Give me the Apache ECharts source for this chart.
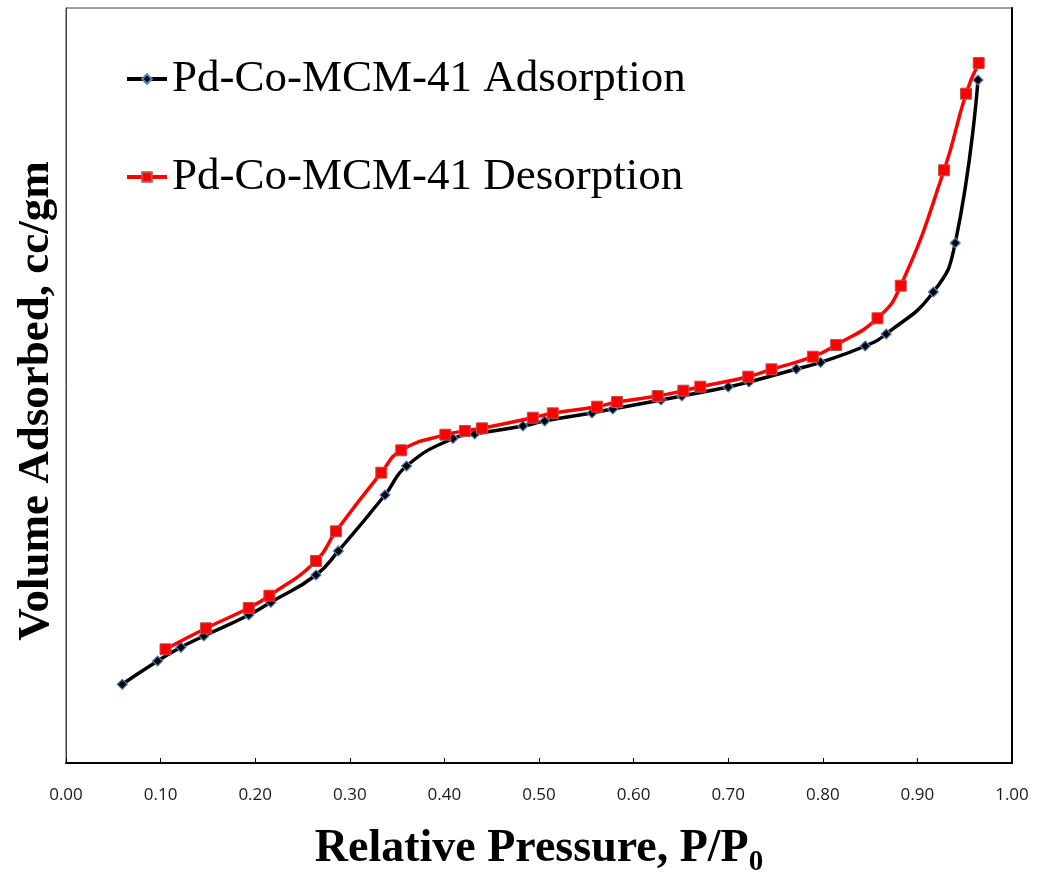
<!DOCTYPE html>
<html>
<head>
<meta charset="utf-8">
<script src="https://cdn.jsdelivr.net/npm/echarts@6/dist/echarts.min.js"></script>
<style>
  html, body { margin: 0; padding: 0; background: #fff; }
  #chart { width: 1038px; height: 874px; }
</style>
</head>
<body>
<div id="chart"></div>
<script>
// N2 isotherm of Pd-Co-MCM-41: relative pressure (P/P0) vs volume adsorbed (cc/g)
const adsorptionP = [0.0595, 0.0968, 0.1215, 0.1457, 0.1932, 0.2165, 0.2643, 0.2879, 0.3372, 0.3600,
  0.4090, 0.4320, 0.4830, 0.5060, 0.5560, 0.5780, 0.6290, 0.6510, 0.7000, 0.7220,
  0.7720, 0.7976, 0.8448, 0.8670, 0.9169, 0.9400, 0.9640];
const adsorptionV = [78.7, 102, 115.7, 127, 148, 160.7, 188, 212, 268, 297,
  324.5, 329, 337, 342, 350, 354, 363, 367, 376, 381,
  394, 400.7, 417, 429, 471, 520, 683];

const desorptionP = [0.1052, 0.1479, 0.1932, 0.2150, 0.2643, 0.2854, 0.3333, 0.3544, 0.4010, 0.4217,
  0.4397, 0.4935, 0.5146, 0.5614, 0.5825, 0.6254, 0.6526, 0.6705, 0.7212, 0.7458,
  0.7895, 0.8141, 0.8578, 0.8824, 0.9282, 0.9514, 0.9648];
const desorptionV = [113.7, 134.7, 155, 167.3, 202, 231.7, 290.3, 312.7, 328.3, 332,
  334.7, 345.3, 349.7, 356.3, 361, 367, 372.3, 376.3, 386.3, 393.7,
  406.3, 418, 444.7, 477.3, 592.7, 669.3, 700];

const seriesNames = ['Pd-Co-MCM-41 Adsorption', 'Pd-Co-MCM-41 Desorption'];
const xTicks = { min: 0, max: 1, interval: 0.1 };
const xTitle = 'Relative Pressure, P/P';
const xTitleSub = '0';
const yTitle = 'Volume Adsorbed, cc/gm';

const pairs = (xs, ys) => xs.map((x, i) => [x, ys[i]]);

const chart = echarts.init(document.getElementById('chart'), null, { renderer: 'canvas' });

chart.setOption({
  backgroundColor: '#ffffff',
  animation: false,
  grid: {
    left: 66, right: 26, top: 8, bottom: 111,
    outerBoundsMode: 'none',
    containLabel: false,
    show: true, borderColor: '#404040', borderWidth: 1
  },
  legend: {
    orient: 'vertical',
    left: 120,
    top: 49,
    itemWidth: 40,
    itemHeight: 12,
    itemGap: 48,
    lineStyle: { width: 4 },
    textStyle: { fontFamily: 'Liberation Serif', fontSize: 45, color: '#000', lineHeight: 50 },
    data: seriesNames
  },
  xAxis: {
    type: 'value',
    min: xTicks.min,
    max: xTicks.max,
    interval: xTicks.interval,
    axisLine: { show: true, onZero: false, lineStyle: { color: '#000', width: 2 } },
    axisTick: { show: true, inside: true, length: 5, lineStyle: { color: '#000', width: 1 } },
    splitLine: { show: false },
    axisLabel: {
      margin: 24,
      fontFamily: 'Open Sans',
      fontSize: 17,
      color: '#1a1a1a',
      formatter: v => v.toFixed(2)
    },
    name: '{a|' + xTitle + '}{b|' + xTitleSub + '}',
    nameLocation: 'middle',
    nameGap: 58,
    nameTextStyle: {
      rich: {
        a: { fontFamily: 'Liberation Serif', fontWeight: 'bold', fontSize: 46, color: '#000', lineHeight: 56 },
        b: { fontFamily: 'Liberation Serif', fontWeight: 'bold', fontSize: 29, color: '#000', lineHeight: 24, verticalAlign: 'bottom' }
      }
    }
  },
  yAxis: [
    {
      type: 'value',
      min: 0,
      max: 755,
      axisLine: { show: true, lineStyle: { color: '#404040', width: 1 } },
      axisTick: { show: false },
      axisLabel: { show: false },
      splitLine: { show: false }
    },
    {
      type: 'value',
      position: 'right',
      min: 0,
      max: 755,
      axisLine: { show: true, lineStyle: { color: '#000', width: 2 } },
      axisTick: { show: false },
      axisLabel: { show: false },
      splitLine: { show: false }
    }
  ],
  graphic: [
    {
      type: 'text',
      x: 36,
      y: 401,
      rotation: Math.PI / 2,
      style: {
        text: yTitle,
        fontFamily: 'Liberation Serif',
        fontWeight: 'bold',
        fontSize: 45,
        fill: '#000',
        textAlign: 'center',
        textVerticalAlign: 'middle'
      }
    }
  ],
  series: [
    {
      name: seriesNames[0],
      type: 'line',
      smooth: 0.5,
      data: pairs(adsorptionP, adsorptionV),
      symbol: 'diamond',
      symbolSize: 10,
      itemStyle: { color: '#000', borderColor: '#4f81bd', borderWidth: 1.2 },
      lineStyle: { color: '#000', width: 3.5 },
      z: 2
    },
    {
      name: seriesNames[1],
      type: 'line',
      smooth: 0.5,
      data: pairs(desorptionP, desorptionV),
      symbol: 'rect',
      symbolSize: 11,
      itemStyle: { color: '#ff0000', borderColor: '#c0504d', borderWidth: 1 },
      lineStyle: { color: '#ff0000', width: 3.5 },
      z: 3
    }
  ]
});
</script>
</body>
</html>
